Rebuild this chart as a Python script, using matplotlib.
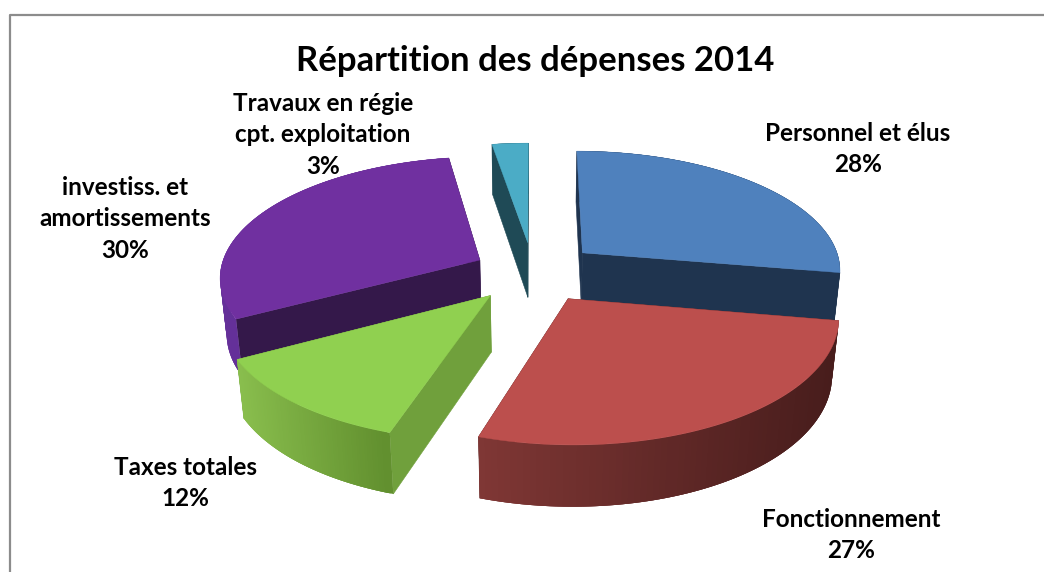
#!/usr/bin/env python3
import matplotlib.pyplot as plt
import numpy as np
from matplotlib.collections import PolyCollection
from matplotlib.colors import to_rgb

plt.switch_backend('agg')
plt.rcParams['font.family'] = ['Lato', 'DejaVu Sans']

title = "Répartition des dépenses 2014"
labels = ["Personnel et élus", "Fonctionnement", "Taxes totales",
          "investiss. et\namortissements", "Travaux en régie\ncpt. exploitation"]
values = [27.7, 27.3, 12.1, 30.3, 2.6]
label_pos = [(858, 149), (851, 535), (185, 483), (125, 219), (323, 135)]

top_colors = ["#4f81bd", "#bc4f4d", "#90d050", "#7030a0", "#4bacc6"]
radial_colors = ["#1f344f", "#5a2423", "#70a03c", "#34184a", "#1f4a56"]
rim_left = ["#1f344f", "#823836", "#8abf4e", "#65309a", "#1f4a56"]
rim_right = ["#1f344f", "#481d1c", "#62902f", "#5a2a88", "#1f4a56"]
explode = [66, 66, 65, 60, 66]
# back to front
draw_order = [3, 4, 0, 2, 1]

cx, cy = 533, 272
radius = 260
height = 57
tilt = 0.46
persp = 0.0005


def project(x, y, z):
    w = 1 / (1 + persp * (y - 0.75 * z))
    return np.column_stack((cx + x * w, cy - (tilt * y + z) * w))


fig = plt.figure(figsize=(10.44, 5.72), dpi=100)
ax = fig.add_axes([0, 0, 1, 1])
ax.set_xlim(0, 1044)
ax.set_ylim(572, 0)
ax.axis("off")

ax.plot([10, 10, 1044], [572, 15, 15], color="#8c8c8c", lw=1.6)

edges = np.concatenate(([0], np.cumsum(values))) / sum(values) * 2 * np.pi

for i in draw_order:
    a0, a1 = edges[i], edges[i + 1]
    mid = (a0 + a1) / 2
    ox, oy = explode[i] * np.sin(mid), explode[i] * np.cos(mid)
    t = np.linspace(a0, a1, 80)
    x = ox + radius * np.sin(t)
    y = oy + radius * np.cos(t)

    # flat cut faces
    for a in (a0, a1):
        px = [ox, ox + radius * np.sin(a)]
        py = [oy, oy + radius * np.cos(a)]
        top = project(np.array(px), np.array(py), 0)
        bot = project(np.array(px), np.array(py), -height)
        ax.fill(np.r_[top[:, 0], bot[::-1, 0]], np.r_[top[:, 1], bot[::-1, 1]],
                color=radial_colors[i], lw=0.4)

    # outer rim, shaded along the arc; each quad overlaps the next to hide seams
    top = project(x, y, 0)
    bot = project(x, y, -height)
    quads = []
    cols = []
    xmin, xmax = top[:, 0].min(), top[:, 0].max()
    c0, c1 = np.array(to_rgb(rim_left[i])), np.array(to_rgb(rim_right[i]))
    # paint from the far end of the arc so the overlap always falls underneath
    for k in range(len(t) - 2, -1, -1):
        k2 = min(k + 3, len(t) - 1)
        quads.append(np.vstack((top[k:k2 + 1], bot[k:k2 + 1][::-1])))
        f = (top[k, 0] - xmin) / (xmax - xmin)
        cols.append(c0 + (c1 - c0) * f)
    ax.add_collection(PolyCollection(quads, facecolors=cols, edgecolors="none", linewidths=0))

    # top face
    poly_x = np.r_[ox, x]
    poly_y = np.r_[oy, y]
    face = project(poly_x, poly_y, 0)
    ax.fill(face[:, 0], face[:, 1], color=top_colors[i], lw=0.3, zorder=3)

ax.text(535, 61, title, ha="center", va="center", fontsize=24.9, fontweight="bold", color="black")
for lab, val, pos in zip(labels, values, label_pos):
    ax.text(pos[0], pos[1], lab + "\n" + str(round(val)) + "%", ha="center", va="center",
            fontsize=17.5, fontweight="bold", color="black", linespacing=1.43, zorder=5)

plt.savefig("out.png", dpi=100)
